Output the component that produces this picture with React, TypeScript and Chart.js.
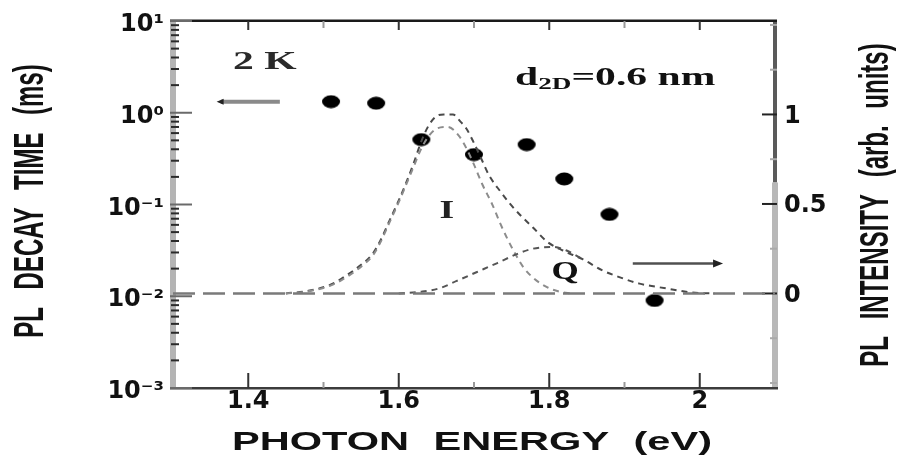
import React, { useEffect, useRef } from 'react';
import { Chart, registerables } from 'chart.js';

Chart.register(...registerables);

// ---- data ----
const decayEnergy = [1.51, 1.57, 1.63, 1.70, 1.77, 1.82, 1.88, 1.94];
const decayTime = [1.32, 1.27, 0.51, 0.35, 0.45, 0.19, 0.078, 0.009];

const totalEnergy = [1.45, 1.48, 1.51, 1.53, 1.55, 1.565, 1.575, 1.588, 1.60, 1.61, 1.62, 1.63, 1.64, 1.65, 1.66, 1.672, 1.682, 1.69, 1.70, 1.71, 1.72, 1.735, 1.748, 1.761, 1.778, 1.797, 1.818, 1.845, 1.87, 1.894, 1.92, 1.956, 1.99, 2.02];
const totalIntensity = [0, 0.015, 0.05, 0.10, 0.16, 0.22, 0.29, 0.41, 0.52, 0.62, 0.73, 0.85, 0.94, 0.99, 1.0, 1.0, 0.96, 0.92, 0.84, 0.75, 0.66, 0.57, 0.50, 0.44, 0.37, 0.29, 0.24, 0.19, 0.13, 0.09, 0.055, 0.028, 0.005, 0];

const iEnergy = [1.45, 1.48, 1.51, 1.53, 1.55, 1.565, 1.575, 1.588, 1.60, 1.61, 1.62, 1.63, 1.64, 1.65, 1.665, 1.68, 1.69, 1.70, 1.711, 1.724, 1.735, 1.745, 1.755, 1.765, 1.778, 1.797, 1.814, 1.83];
const iIntensity = [0, 0.012, 0.045, 0.09, 0.15, 0.21, 0.28, 0.40, 0.51, 0.61, 0.71, 0.81, 0.88, 0.92, 0.93, 0.88, 0.81, 0.72, 0.61, 0.50, 0.39, 0.30, 0.22, 0.15, 0.09, 0.035, 0.01, 0];

const qEnergy = [1.60, 1.63, 1.655, 1.677, 1.704, 1.731, 1.757, 1.778, 1.805, 1.823, 1.845];
const qIntensity = [0, 0.01, 0.03, 0.07, 0.12, 0.17, 0.22, 0.25, 0.26, 0.24, 0.19];

const baselineEnergy = [1.3, 2.1];
const baselineIntensity = [0, 0];

const energyTicks = [1.3, 1.4, 1.5, 1.6, 1.7, 1.8, 1.9, 2.0, 2.1];
const energyLabelValues = [1.4, 1.6, 1.8, 2.0];
const energyLabels = ['1.4', '1.6', '1.8', '2'];

const decadeValues = [0.001, 0.01, 0.1, 1, 10];
const decadeLabels = ['10\u207B\u00B3', '10\u207B\u00B2', '10\u207B\u00B9', '10\u2070', '10\u00B9'];

const intensityTicks = [-0.5, -0.25, 0, 0.25, 0.5, 0.75, 1, 1.25, 1.5];
const intensityLabelValues = [0, 0.5, 1];
const intensityLabels = ['0', '0.5', '1'];

// ---- helpers ----
const pts = (xs: number[], ys: number[]) => xs.map((x, i) => ({ x, y: ys[i] }));
const near = (a: number, b: number) => Math.abs(a - b) < 1e-6 * Math.max(1, Math.abs(b));

function logTickValues(): number[] {
  const out: number[] = [];
  for (let e = -3; e <= 0; e++) {
    for (let m = 1; m <= 9; m++) out.push(parseFloat((m * Math.pow(10, e)).toPrecision(6)));
  }
  out.push(10);
  return out;
}

function stretchedText(ctx: CanvasRenderingContext2D, text: string, x: number, y: number, font: string, sx: number, align: CanvasTextAlign = 'center', baseline: CanvasTextBaseline = 'alphabetic', rotate = 0, ws = '0px', color = '#111') {
  ctx.save();
  ctx.translate(x, y);
  ctx.scale(sx, 1);
  if (rotate) ctx.rotate(rotate);
  ctx.font = font;
  ctx.textAlign = align;
  ctx.textBaseline = baseline;
  (ctx as any).wordSpacing = ws;
  ctx.fillStyle = color;
  ctx.fillText(text, 0, 0);
  ctx.restore();
}

function arrow(ctx: CanvasRenderingContext2D, x1: number, y1: number, x2: number, y2: number, color: string, headColor: string, lw: number, hl: number, hw: number) {
  const ang = Math.atan2(y2 - y1, x2 - x1);
  ctx.save();
  ctx.strokeStyle = color;
  ctx.lineWidth = lw;
  ctx.beginPath();
  ctx.moveTo(x1, y1);
  ctx.lineTo(x2 - Math.cos(ang) * hl * 0.6, y2 - Math.sin(ang) * hl * 0.6);
  ctx.stroke();
  ctx.fillStyle = headColor;
  ctx.beginPath();
  ctx.moveTo(x2, y2);
  ctx.lineTo(x2 - Math.cos(ang) * hl - Math.sin(ang) * hw, y2 - Math.sin(ang) * hl + Math.cos(ang) * hw);
  ctx.lineTo(x2 - Math.cos(ang) * hl + Math.sin(ang) * hw, y2 - Math.sin(ang) * hl - Math.cos(ang) * hw);
  ctx.closePath();
  ctx.fill();
  ctx.restore();
}

const SANS = '"Liberation Sans", Arial, sans-serif';
const SERIF = '"Liberation Serif", "Times New Roman", serif';

const decorPlugin = {
  id: 'decor',
  beforeDatasetsDraw(chart: any) {
    const { ctx, chartArea: a, scales } = chart;
    ctx.save();
    // left axis bar
    ctx.fillStyle = '#b4b4b4';
    ctx.fillRect(a.left - 3, a.top, 6, a.bottom - a.top);
    // right axis
    const split = a.top + 0.44 * (a.bottom - a.top);
    ctx.fillStyle = '#5a5a5a';
    ctx.fillRect(a.right - 2, a.top - 1, 4, split - a.top + 1);
    ctx.fillStyle = '#b8b8b8';
    ctx.fillRect(a.right - 3, split, 6, a.bottom - split + 1);
    // top & bottom
    ctx.fillStyle = '#1a1a1a';
    ctx.fillRect(a.left - 3, a.top - 1.5, a.right - a.left + 5, 2.5);
    ctx.fillStyle = '#3c3c3c';
    ctx.fillRect(a.left - 3, a.bottom - 1, a.right - a.left + 6, 2.5);

    ctx.lineWidth = 2;
    // x ticks (top and bottom)
    for (const t of scales.x.ticks) {
      const v = t.value;
      if (v <= scales.x.min + 1e-6 || v >= scales.x.max - 1e-6) continue;
      const px = scales.x.getPixelForValue(v);
      const major = energyLabelValues.some((m) => near(m, v));
      ctx.strokeStyle = major ? '#333' : '#999';
      ctx.beginPath();
      ctx.moveTo(px, a.bottom);
      ctx.lineTo(px, a.bottom - (major ? 15 : 6));
      ctx.moveTo(px, a.top);
      ctx.lineTo(px, a.top + (major ? 9 : 7));
      ctx.stroke();
    }
    // left log ticks
    for (const t of scales.y.ticks) {
      const v = t.value;
      const py = scales.y.getPixelForValue(v);
      const major = decadeValues.some((d) => near(d, v));
      if (major) {
        ctx.strokeStyle = '#6a6a6a';
        ctx.beginPath();
        ctx.moveTo(a.left - 3, py);
        ctx.lineTo(a.left + 19, py);
        ctx.stroke();
      } else {
        ctx.strokeStyle = '#2a2a2a';
        ctx.beginPath();
        ctx.moveTo(a.left - 2, py);
        ctx.lineTo(a.left + 6, py);
        ctx.stroke();
      }
    }
    // right ticks
    for (const t of scales.y2.ticks) {
      const v = t.value;
      const py = scales.y2.getPixelForValue(v);
      const major = intensityLabelValues.some((m) => near(m, v));
      ctx.strokeStyle = major ? '#222' : '#aaa';
      ctx.beginPath();
      ctx.moveTo(a.right + 2, py);
      ctx.lineTo(a.right - (major ? 13 : 5), py);
      ctx.stroke();
    }
    ctx.restore();
  },
  afterDatasetsDraw(chart: any) {
    const { ctx, scales } = chart;
    const X = (v: number) => scales.x.getPixelForValue(v);
    const Y = (v: number) => scales.y.getPixelForValue(v);
    const Y2 = (v: number) => scales.y2.getPixelForValue(v);

    // arrows
    arrow(ctx, X(1.442), Y(1.32), X(1.358), Y(1.32), '#8a8a8a', '#222', 4, 7, 3);
    arrow(ctx, X(1.911), Y2(0.167), X(2.031), Y2(0.167), '#505050', '#222', 2.5, 10, 4);

    // annotations
    stretchedText(ctx, '2 K', X(1.422), Y(3.0), `bold 26px ${SERIF}`, 1.6, 'center', 'alphabetic', 0, '0px', '#2a2a2a');

    const sx = 1.6;
    const x0 = X(1.7545);
    const yb = Y(2.02);
    ctx.save();
    ctx.font = `bold 26px ${SERIF}`;
    const wd = ctx.measureText('d').width * sx;
    ctx.font = `bold 17px ${SERIF}`;
    const w2 = ctx.measureText('2D').width * sx;
    ctx.restore();
    stretchedText(ctx, 'd', x0, yb, `bold 26px ${SERIF}`, sx, 'left');
    stretchedText(ctx, '2D', x0 + wd, yb + 4, `bold 17px ${SERIF}`, sx, 'left');
    stretchedText(ctx, '=0.6 nm', x0 + wd + w2, yb, `bold 26px ${SERIF}`, sx, 'left');

    stretchedText(ctx, 'I', X(1.664), Y2(0.42), `bold 25px ${SERIF}`, 1.5, 'center', 'alphabetic', 0, '0px', '#222');
    stretchedText(ctx, 'Q', X(1.821), Y2(0.083), `bold 25px ${SERIF}`, 1.4, 'center', 'alphabetic', 0, '0px', '#111');
  },
  afterDraw(chart: any) {
    const { ctx } = chart;
    stretchedText(ctx, 'PL DECAY TIME (ms)', 31, 201, `bold 24px ${SANS}`, 1.75, 'center', 'middle', -Math.PI / 2, '11px', '#111');
    stretchedText(ctx, 'PL INTENSITY (arb. units)', 877, 205, `bold 24px ${SANS}`, 1.7, 'center', 'middle', -Math.PI / 2, '10px', '#111');
    stretchedText(ctx, 'PHOTON ENERGY (eV)', 472, 450, `bold 26px ${SANS}`, 1.6, 'center', 'alphabetic', 0, '8px', '#111');
  },
};

function makeDot(): HTMLCanvasElement {
  const c = document.createElement('canvas');
  c.width = 20;
  c.height = 14;
  const g = c.getContext('2d')!;
  g.fillStyle = '#000';
  g.beginPath();
  g.ellipse(10, 7, 9, 6.5, 0, 0, Math.PI * 2);
  g.fill();
  return c;
}

const tickFont = { family: '"DejaVu Sans", sans-serif', weight: 'bold' as const, size: 24, lineHeight: 1 };

export default function App() {
  const ref = useRef<HTMLCanvasElement>(null);
  useEffect(() => {
    const canvas = ref.current!;
    const dot = makeDot();
    const chart = new Chart(canvas, {
      type: 'scatter',
      data: {
        datasets: [
          {
            label: 'baseline',
            data: pts(baselineEnergy, baselineIntensity),
            yAxisID: 'y2',
            showLine: true,
            pointRadius: 0,
            borderColor: '#7a7a7a',
            borderWidth: 2.5,
            borderDash: [22, 8],
          } as any,
          {
            label: 'Q',
            data: pts(qEnergy, qIntensity),
            yAxisID: 'y2',
            showLine: true,
            pointRadius: 0,
            borderColor: '#555',
            borderWidth: 2,
            borderDash: [6, 5],
            cubicInterpolationMode: 'monotone',
          },
          {
            label: 'I',
            data: pts(iEnergy, iIntensity),
            yAxisID: 'y2',
            showLine: true,
            pointRadius: 0,
            borderColor: '#8c8c8c',
            borderWidth: 2,
            borderDash: [6, 5],
            cubicInterpolationMode: 'monotone',
          },
          {
            label: 'total',
            data: pts(totalEnergy, totalIntensity),
            yAxisID: 'y2',
            showLine: true,
            pointRadius: 0,
            borderColor: '#4a4a4a',
            borderWidth: 2,
            borderDash: [6, 5],
            cubicInterpolationMode: 'monotone',
          },
          {
            label: 'decay time',
            data: pts(decayEnergy, decayTime),
            yAxisID: 'y',
            showLine: false,
            pointStyle: dot as any,
            pointRadius: 7,
            backgroundColor: '#000',
            borderColor: '#000',
          },
        ],
      },
      options: {
        responsive: false,
        animation: false,
        layout: { padding: { top: 19, left: 0, right: 0, bottom: 0 } },
        plugins: { legend: { display: false }, tooltip: { enabled: false } },
        scales: {
          x: {
            type: 'linear',
            position: 'bottom',
            min: 1.3,
            max: 2.1,
            grid: { display: false, drawTicks: false },
            border: { display: false },
            afterBuildTicks: (s: any) => {
              s.ticks = energyTicks.map((value) => ({ value }));
            },
            afterFit: (s: any) => {
              s.height = 71;
            },
            ticks: {
              autoSkip: false,
              maxRotation: 0,
              padding: 2,
              color: '#111',
              font: tickFont,
              callback: (v: any) => {
                const i = energyLabelValues.findIndex((m) => near(m, Number(v)));
                return i >= 0 ? energyLabels[i] : '';
              },
            },
          },
          y: {
            type: 'logarithmic',
            position: 'left',
            min: 0.001,
            max: 10,
            grid: { display: false, drawTicks: false },
            border: { display: false },
            afterBuildTicks: (s: any) => {
              s.ticks = logTickValues().map((value) => ({ value }));
            },
            afterFit: (s: any) => {
              s.width = 173;
            },
            ticks: {
              autoSkip: false,
              padding: 9,
              labelOffset: 4,
              color: '#111',
              font: tickFont,
              callback: (v: any) => {
                const i = decadeValues.findIndex((d) => near(d, Number(v)));
                return i >= 0 ? decadeLabels[i] : '';
              },
            },
          },
          y2: {
            type: 'linear',
            position: 'right',
            min: -0.528,
            max: 1.522,
            grid: { display: false, drawTicks: false },
            border: { display: false },
            afterBuildTicks: (s: any) => {
              s.ticks = intensityTicks.map((value) => ({ value }));
            },
            afterFit: (s: any) => {
              s.width = 125;
            },
            ticks: {
              autoSkip: false,
              padding: 9,
              labelOffset: 2,
              color: '#111',
              font: tickFont,
              callback: (v: any) => {
                const i = intensityLabelValues.findIndex((m) => near(m, Number(v)));
                return i >= 0 ? intensityLabels[i] : '';
              },
            },
          },
        },
      } as any,
      plugins: [decorPlugin],
    });
    return () => chart.destroy();
  }, []);

  return (
    <div style={{ position: 'fixed', left: 0, top: 0, width: 900, height: 459, background: '#fff' }}>
      <canvas ref={ref} width={900} height={459} style={{ display: 'block', width: 900, height: 459 }} />
    </div>
  );
}
